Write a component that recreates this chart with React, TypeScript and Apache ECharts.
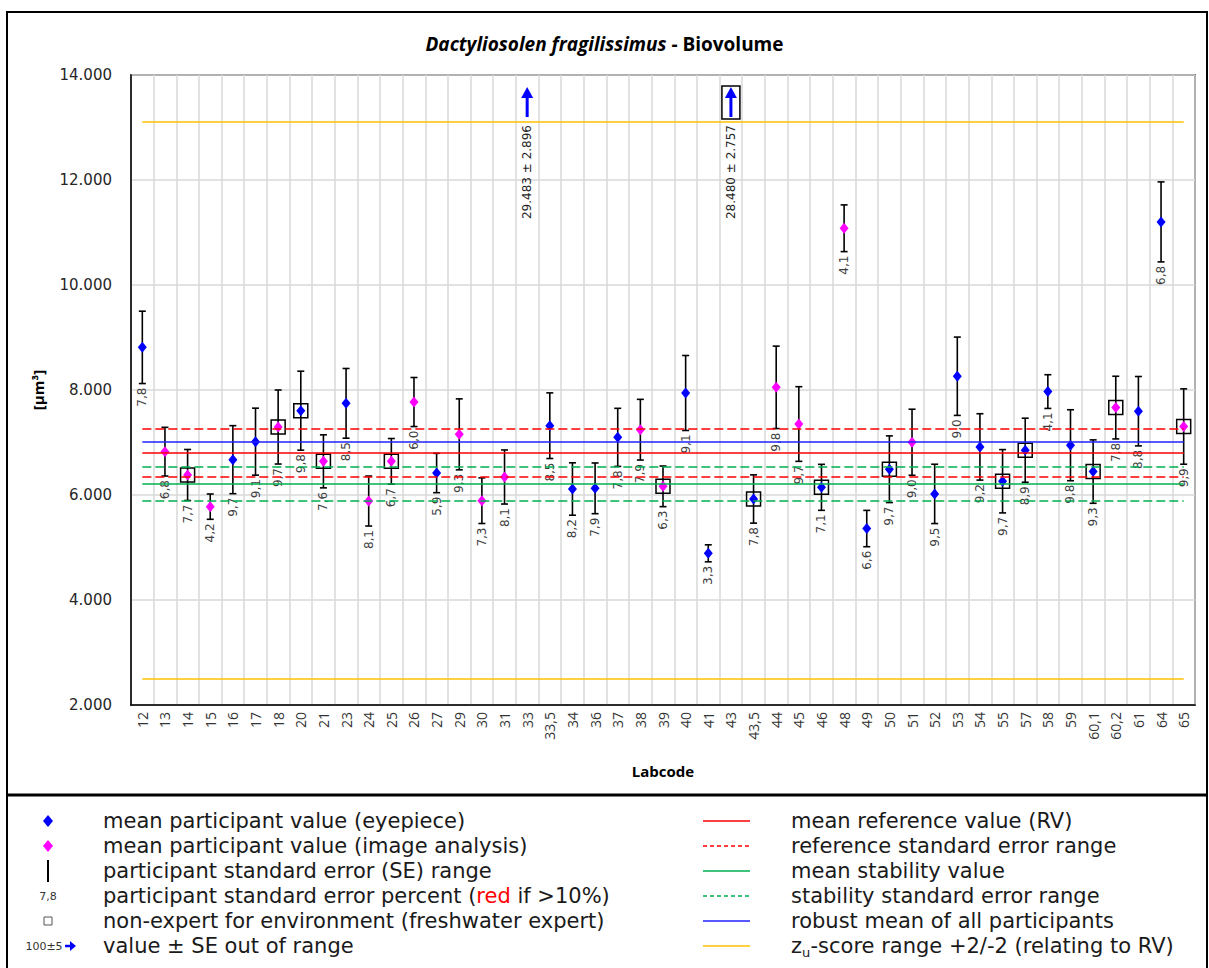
import React, { useEffect, useRef } from "react";
import * as echarts from "echarts";

// ---------- data ----------
const labcodes = [
  "12", "13", "14", "15", "16", "17", "18", "20", "21", "23", "24", "25", "26", "27", "29", "30", "31",
  "33", "33,5", "34", "36", "37", "38", "39", "40", "41", "43", "43,5", "44", "45", "46", "48", "49",
  "50", "51", "52", "53", "54", "55", "57", "58", "59", "60,1", "60,2", "61", "64", "65",
];
// E = eyepiece, I = image analysis
const methods = [
  "E", "I", "I", "I", "E", "E", "I", "E", "I", "E", "I", "I", "I", "E", "I", "I", "I",
  "E", "E", "E", "E", "E", "I", "I", "E", "E", "E", "E", "I", "I", "E", "I", "E",
  "E", "I", "E", "E", "E", "E", "E", "E", "E", "E", "I", "E", "E", "I",
];
const meanValues = [
  8812, 6825, 6381, 5778, 6673, 7016, 7295, 7606, 6641, 7746, 5885, 6641, 7771, 6419, 7155, 5892, 6343,
  29483, 7320, 6114, 6127, 7098, 7244, 6165, 7943, 4889, 28480, 5924, 8051, 7352, 6146, 11081, 5361,
  6491, 7005, 6021, 8262, 6916, 6262, 6853, 7970, 6948, 6446, 7665, 7596, 11202, 7304,
];
const seValues = [
  689, 464, 486, 241, 648, 638, 705, 752, 505, 664, 476, 435, 467, 375, 676, 435, 515,
  2896, 625, 499, 483, 553, 578, 387, 714, 162, 2757, 460, 785, 711, 438, 445, 346,
  635, 629, 565, 746, 632, 603, 610, 321, 676, 604, 597, 661, 762, 718,
];
const sePercent = [
  7.8, 6.8, 7.7, 4.2, 9.7, 9.1, 9.7, 9.8, 7.6, 8.5, 8.1, 6.7, 6.0, 5.9, 9.3, 7.3, 8.1,
  null, 8.5, 8.2, 7.9, 7.8, 7.9, 6.3, 9.1, 3.3, null, 7.8, 9.8, 9.7, 7.1, 4.1, 6.6,
  9.7, 9.0, 9.5, 9.0, 9.2, 9.7, 8.9, 4.1, 9.8, 9.3, 7.8, 8.8, 6.8, 9.9,
];
const nonExpert = ["14", "18", "20", "21", "25", "39", "43", "43,5", "46", "50", "55", "57", "60,1", "60,2", "65"];

const referenceValue = 6806;
const referenceUpper = 7263;
const referenceLower = 6356;
const stabilityMean = 6210;
const stabilityUpper = 6533;
const stabilityLower = 5892;
const robustMean = 7020;
const zuUpper = 13105;
const zuLower = 2495;

const yMin = 2000;
const yMax = 14000;
const yInterval = 2000;

// ---------- helpers ----------
const fmtThousands = (v: number) =>
  Math.round(v).toString().replace(/\B(?=(\d{3})+(?!\d))/g, ".");
const fmtPct = (v: number) => v.toFixed(1).replace(".", ",");

const BLUE = "#0000FF";
const LINE_BLUE = "#2020FF";
const MAGENTA = "#FF00FF";
const RED = "#FF0000";
const GREEN = "#00B050";
const YELLOW = "#FFC000";
const GRID = "#D9D9D9";
const LEGEND_FONT = "DejaVu Sans";

export default function App() {
  const ref = useRef<HTMLDivElement>(null);

  useEffect(() => {
    if (!ref.current) return;
    const chart = echarts.init(ref.current, undefined, { renderer: "svg" });

    const inRange = (i: number) => meanValues[i] <= yMax;
    const eyeData: number[][] = [];
    const imgData: number[][] = [];
    const errData: number[][] = [];
    const boxData: number[][] = [];
    const outData: number[][] = [];
    labcodes.forEach((c, i) => {
      if (inRange(i)) {
        if (methods[i] === "E") eyeData.push([i, meanValues[i]]);
        else imgData.push([i, meanValues[i]]);
        errData.push([i, meanValues[i], seValues[i]]);
        if (nonExpert.includes(c)) boxData.push([i, meanValues[i]]);
      } else {
        outData.push([i, meanValues[i], seValues[i]]);
      }
    });

    const first = 0;
    const last = labcodes.length - 1;
    const hLine = (v: number, color: string, dashed: boolean, width = 1.5) => [
      { coord: [first, v], lineStyle: { color, width, type: dashed ? [9, 4] : "solid", opacity: 1 } },
      { coord: [last, v] },
    ];

    const legendRowY = (k: number) => 821 + 25 * k;
    const leftTextX = 103;
    const rightTextX = 791;
    const legendTextStyle = (text: string) => ({
      text,
      fill: "#1a1a1a",
      fontSize: 21,
      fontFamily: LEGEND_FONT,
      align: "left",
      verticalAlign: "middle",
    });
    const diamond = (cx: number, cy: number, color: string) => ({
      type: "polygon",
      shape: { points: [[cx, cy - 6], [cx + 5, cy], [cx, cy + 6], [cx - 5, cy]] },
      style: { fill: color },
    });
    const legendLine = (k: number, color: string, dashed: boolean) => ({
      type: "line",
      shape: { x1: 703, y1: legendRowY(k), x2: 750, y2: legendRowY(k) },
      style: { stroke: color, lineWidth: 1.5, lineDash: dashed ? [4, 3] : null },
    });

    const graphic: any[] = [
      // outer frame
      {
        type: "rect",
        shape: { x: 7, y: 12, width: 1200, height: 962 },
        style: { fill: "none", stroke: "#000", lineWidth: 2 },
        silent: true,
      },
      {
        type: "line",
        shape: { x1: 7, y1: 795, x2: 1207, y2: 795 },
        style: { stroke: "#000", lineWidth: 3 },
        silent: true,
      },
      // left legend column
      diamond(48, legendRowY(0), BLUE),
      { type: "text", x: leftTextX, y: legendRowY(0), style: legendTextStyle("mean participant value (eyepiece)") },
      diamond(48, legendRowY(1), MAGENTA),
      { type: "text", x: leftTextX, y: legendRowY(1), style: legendTextStyle("mean participant value (image analysis)") },
      {
        type: "line",
        shape: { x1: 48, y1: legendRowY(2) - 11, x2: 48, y2: legendRowY(2) + 11 },
        style: { stroke: "#000", lineWidth: 2 },
      },
      { type: "text", x: leftTextX, y: legendRowY(2), style: legendTextStyle("participant standard error (SE) range") },
      {
        type: "text",
        x: 48,
        y: legendRowY(3),
        style: { text: "7,8", fill: "#333", fontSize: 11, fontFamily: LEGEND_FONT, align: "center", verticalAlign: "middle" },
      },
      {
        type: "text",
        x: leftTextX,
        y: legendRowY(3),
        style: {
          text: "{a|participant standard error percent (}{r|red}{a| if >10%)}",
          align: "left",
          verticalAlign: "middle",
          rich: {
            a: { fill: "#1a1a1a", fontSize: 21, fontFamily: LEGEND_FONT },
            r: { fill: RED, fontSize: 21, fontFamily: LEGEND_FONT },
          },
        },
      },
      {
        type: "rect",
        shape: { x: 44, y: legendRowY(4) - 4, width: 8, height: 8 },
        style: { fill: "#fff", stroke: "#555", lineWidth: 1 },
      },
      { type: "text", x: leftTextX, y: legendRowY(4), style: legendTextStyle("non-expert for environment (freshwater expert)") },
      {
        type: "text",
        x: 44,
        y: legendRowY(5),
        style: { text: "100±5", fill: "#333", fontSize: 11, fontFamily: LEGEND_FONT, align: "center", verticalAlign: "middle" },
      },
      {
        type: "line",
        shape: { x1: 65, y1: legendRowY(5), x2: 72, y2: legendRowY(5) },
        style: { stroke: BLUE, lineWidth: 2.5 },
      },
      {
        type: "polygon",
        shape: { points: [[70, legendRowY(5) - 5], [76, legendRowY(5)], [70, legendRowY(5) + 5]] },
        style: { fill: BLUE },
      },
      { type: "text", x: leftTextX, y: legendRowY(5), style: legendTextStyle("value ± SE out of range") },
      // right legend column
      legendLine(0, RED, false),
      { type: "text", x: rightTextX, y: legendRowY(0), style: legendTextStyle("mean reference value (RV)") },
      legendLine(1, RED, true),
      { type: "text", x: rightTextX, y: legendRowY(1), style: legendTextStyle("reference standard error range") },
      legendLine(2, GREEN, false),
      { type: "text", x: rightTextX, y: legendRowY(2), style: legendTextStyle("mean stability value") },
      legendLine(3, GREEN, true),
      { type: "text", x: rightTextX, y: legendRowY(3), style: legendTextStyle("stability standard error range") },
      legendLine(4, LINE_BLUE, false),
      { type: "text", x: rightTextX, y: legendRowY(4), style: legendTextStyle("robust mean of all participants") },
      legendLine(5, YELLOW, false),
      { type: "text", x: rightTextX, y: legendRowY(5), style: legendTextStyle("z") },
      {
        type: "text",
        x: rightTextX + 11,
        y: legendRowY(5) + 6,
        style: { text: "u", fill: "#1a1a1a", fontSize: 13, fontFamily: LEGEND_FONT, align: "left", verticalAlign: "middle" },
      },
      { type: "text", x: rightTextX + 19.5, y: legendRowY(5), style: legendTextStyle("-score range +2/-2 (relating to RV)") },
    ];

    const option: any = {
      animation: false,
      backgroundColor: "#fff",
      title: {
        text: "{i|Dactyliosolen fragilissimus}{b| - Biovolume}",
        left: "center",
        top: 29,
        textStyle: {
          rich: {
            i: { fontFamily: "Open Sans", fontWeight: "bold", fontStyle: "italic", fontSize: 19, color: "#000" },
            b: { fontFamily: "Open Sans", fontWeight: "bold", fontSize: 19, color: "#000" },
          },
        },
      },
      grid: {
        left: 131,
        top: 75,
        width: 1064,
        height: 630,
        show: true,
        borderColor: "#000",
        borderWidth: 1.5,
        backgroundColor: "transparent",
      },
      xAxis: {
        type: "category",
        data: labcodes,
        boundaryGap: true,
        name: "Labcode",
        nameLocation: "middle",
        nameGap: 58,
        nameTextStyle: { fontFamily: "Open Sans", fontWeight: "bold", fontSize: 15, color: "#000" },
        axisLine: { show: true, lineStyle: { color: "#000", width: 1.5 } },
        axisTick: { show: false },
        axisLabel: {
          interval: 0,
          rotate: 90,
          margin: 7,
          fontFamily: "Open Sans",
          fontSize: 14,
          color: "#333",
        },
        splitLine: { show: true, interval: 0, lineStyle: { color: GRID, width: 1.5 } },
      },
      yAxis: {
        type: "value",
        min: yMin,
        max: yMax,
        interval: yInterval,
        name: "[µm³]",
        nameLocation: "middle",
        nameGap: 86,
        nameRotate: 90,
        nameTextStyle: { fontFamily: "Open Sans", fontWeight: "bold", fontSize: 15, color: "#000" },
        axisLine: { show: true, lineStyle: { color: "#000", width: 1.5 } },
        axisTick: { show: false },
        axisLabel: {
          formatter: (v: number) => fmtThousands(v),
          fontFamily: "DejaVu Sans",
          fontSize: 15,
          color: "#262626",
          margin: 19,
        },
        splitLine: { show: true, lineStyle: { color: GRID, width: 1.5 } },
      },
      series: [
        {
          type: "scatter",
          data: [],
          z: 1,
          silent: true,
          markLine: {
            silent: true,
            symbol: "none",
            label: { show: false },
            animation: false,
            data: [
              hLine(zuUpper, YELLOW, false),
              hLine(zuLower, YELLOW, false),
              hLine(stabilityUpper, GREEN, true),
              hLine(stabilityLower, GREEN, true),
              hLine(stabilityMean, GREEN, false),
              hLine(referenceUpper, RED, true),
              hLine(referenceLower, RED, true),
              hLine(referenceValue, RED, false),
              hLine(robustMean, LINE_BLUE, false, 1.5),
            ],
          },
        },
        {
          type: "custom",
          z: 2,
          silent: true,
          data: errData,
          renderItem: (params: any, api: any) => {
            const idx = api.value(0);
            const mean = api.value(1);
            const se = api.value(2);
            const top = api.coord([idx, mean + se]);
            const bot = api.coord([idx, mean - se]);
            const x = top[0];
            const stroke = { stroke: "#000", lineWidth: 1.6 };
            const pct = sePercent[idx];
            const children: any[] = [
              { type: "line", shape: { x1: x, y1: top[1], x2: x, y2: bot[1] }, style: stroke },
              { type: "line", shape: { x1: x - 3.5, y1: top[1], x2: x + 3.5, y2: top[1] }, style: stroke },
              { type: "line", shape: { x1: x - 3.5, y1: bot[1], x2: x + 3.5, y2: bot[1] }, style: stroke },
            ];
            if (pct !== null && pct !== undefined) {
              children.push({
                type: "text",
                x: x,
                y: bot[1] + 4,
                rotation: Math.PI / 2,
                style: {
                  text: fmtPct(pct),
                  fill: pct > 10 ? RED : "#404040",
                  fontSize: 12,
                  fontFamily: "DejaVu Sans",
                  align: "right",
                  verticalAlign: "middle",
                },
              });
            }
            return { type: "group", children };
          },
        },
        {
          type: "scatter",
          z: 3,
          silent: true,
          data: boxData,
          symbol: "rect",
          symbolSize: 14,
          itemStyle: { color: "rgba(0,0,0,0)", borderColor: "#000", borderWidth: 1.5, opacity: 1 },
        },
        {
          type: "scatter",
          z: 4,
          silent: true,
          data: eyeData,
          symbol: "diamond",
          symbolSize: [9, 11],
          itemStyle: { color: BLUE, opacity: 1 },
        },
        {
          type: "scatter",
          z: 4,
          silent: true,
          data: imgData,
          symbol: "diamond",
          symbolSize: [9, 11],
          itemStyle: { color: MAGENTA, opacity: 1 },
        },
        {
          type: "custom",
          z: 4,
          silent: true,
          clip: false,
          data: outData,
          renderItem: (params: any, api: any) => {
            const idx = api.value(0);
            const val = api.value(1);
            const se = api.value(2);
            const p = api.coord([idx, yMax]);
            const x = p[0];
            const t = p[1];
            const color = methods[idx] === "E" ? BLUE : MAGENTA;
            const children: any[] = [
              { type: "line", shape: { x1: x, y1: t + 20, x2: x, y2: t + 42 }, style: { stroke: color, lineWidth: 3 } },
              { type: "polygon", shape: { points: [[x - 6, t + 23], [x, t + 12], [x + 6, t + 23]] }, style: { fill: color } },
              {
                type: "text",
                x: x,
                y: t + 50,
                rotation: Math.PI / 2,
                style: {
                  text: `${fmtThousands(val)} ± ${fmtThousands(se)}`,
                  fill: "#262626",
                  fontSize: 12,
                  fontFamily: "DejaVu Sans",
                  align: "right",
                  verticalAlign: "middle",
                },
              },
            ];
            if (nonExpert.includes(labcodes[idx])) {
              children.push({
                type: "rect",
                shape: { x: x - 9, y: t + 11, width: 18, height: 33 },
                style: { fill: "none", stroke: "#000", lineWidth: 1.5 },
              });
            }
            return { type: "group", children };
          },
        },
      ],
      graphic,
    };

    chart.setOption(option);
    return () => chart.dispose();
  }, []);

  return (
    <div
      ref={ref}
      style={{ position: "absolute", left: 0, top: 0, width: 1209, height: 968, background: "#fff" }}
    />
  );
}
